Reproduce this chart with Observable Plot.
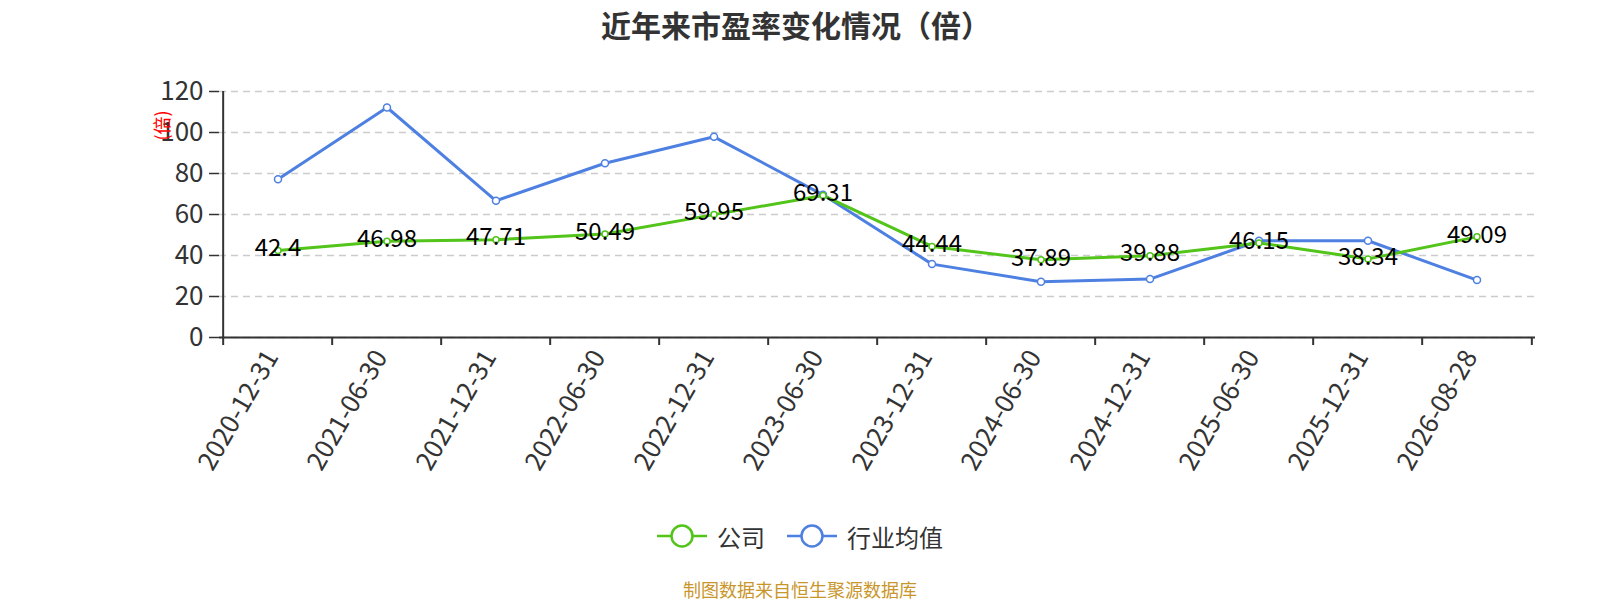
<!DOCTYPE html>
<html><head><meta charset="utf-8">
<script src="https://cdn.jsdelivr.net/npm/d3@7"></script>
<script src="https://cdn.jsdelivr.net/npm/@observablehq/plot@0.6"></script>
<style>
html,body{margin:0;padding:0;background:#fff;overflow:hidden;}
body{width:1600px;height:600px;font-family:"Noto Sans CJK SC","Noto Sans",sans-serif;}
#title{height:48px;line-height:48px;text-align:center;font-size:30px;font-weight:bold;color:#333;padding-right:8px;}
#chart{height:452px;}
#legend{height:72px;display:flex;justify-content:center;align-items:center;gap:22px;font-size:24px;color:#333;}
.li{display:flex;align-items:center;gap:10px;}
.li svg{display:block;}
#caption{text-align:center;font-size:18px;line-height:24px;color:#c9962b;margin-top:5px;}
</style></head>
<body>
<div id="title">近年来市盈率变化情况（倍）</div>
<div id="chart"></div>
<div id="legend"></div>
<div id="caption">制图数据来自恒生聚源数据库</div>
<script>
const dates = ["2020-12-31","2021-06-30","2021-12-31","2022-06-30","2022-12-31","2023-06-30","2023-12-31","2024-06-30","2024-12-31","2025-06-30","2025-12-31","2026-08-28"];
const company = [42.4,46.98,47.71,50.49,59.95,69.31,44.44,37.89,39.88,46.15,38.34,49.09];
const industry = [77.2,112.2,66.7,85.0,97.9,69.6,35.8,27.2,28.5,47.2,47.2,28.0];
const yTicks = [0,20,40,60,80,100,120];
const seriesNames = ["公司","行业均值"];
const colors = ["#52c41a","#4e80e2"];

const rowsC = dates.map((d,i)=>({date:d, v:company[i]}));
const rowsI = dates.map((d,i)=>({date:d, v:industry[i]}));

const W = 1600, H = 452, mL = 219, mR = 65, mT = 43, mB = 163;
const step = (W - mL - mR) / dates.length;
const font = '"Noto Sans CJK SC","Noto Sans",sans-serif';

const chart = Plot.plot({
  width: W, height: H,
  marginLeft: mL, marginRight: mR, marginTop: mT, marginBottom: mB,
  style: {fontFamily: font, background: "#fff"},
  x: {type: "band", domain: dates, padding: 0},
  y: {domain: [0,120]},
  marks: [
    Plot.gridY(yTicks, {stroke: "#ccc", strokeOpacity: 1, strokeDasharray: "7,5", strokeWidth: 1.3}),
    Plot.axisY(yTicks, {tickSize: 10, tickPadding: 6, fontSize: 26, fill: "#333", stroke: "#333", strokeWidth: 1.5, label: null}),
    Plot.ruleX([0], {x: () => dates[0], y1: 0, y2: 120, stroke: "#333", strokeWidth: 2, dx: -step/2}),
    Plot.ruleY([0], {stroke: "#333", strokeWidth: 2}),
    Plot.axisX(dates, {tickSize: 0, tickPadding: 15, tickRotate: -60, fontSize: 26, fill: "#333", label: null, textAnchor: "end", dx: -6}),
    Plot.axisX(dates, {tickSize: 8, tickFormat: () => "", stroke: "#333", strokeWidth: 2, dx: -step/2, label: null}),
    Plot.axisX([dates[dates.length-1]], {tickSize: 8, tickFormat: () => "", stroke: "#333", strokeWidth: 2, dx: step/2, label: null}),
    Plot.text(["(倍)"], {frameAnchor: "top-left", dx: -63, dy: 49, rotate: -90, fill: "red", fontSize: 18, text: d => d}),
    Plot.line(rowsI, {x: "date", y: "v", stroke: colors[1], strokeWidth: 3}),
    Plot.line(rowsC, {x: "date", y: "v", stroke: colors[0], strokeWidth: 3}),
    Plot.dot(rowsI, {x: "date", y: "v", r: 3.5, fill: "#fff", stroke: colors[1], strokeWidth: 1.5}),
    Plot.dot(rowsC, {x: "date", y: "v", r: 3, fill: "#fff", stroke: colors[0], strokeWidth: 1.5}),
    Plot.text(rowsC, {x: "date", y: "v", text: d => String(d.v), fontSize: 24, fill: "#000", dy: -2})
  ]
});
document.getElementById("chart").appendChild(chart);

const legend = document.getElementById("legend");
seriesNames.forEach((n,i)=>{
  const el = document.createElement("div");
  el.className = "li";
  el.innerHTML = `<svg width="50" height="26"><line x1="0" y1="13" x2="50" y2="13" stroke="${colors[i]}" stroke-width="2.5"/><circle cx="25" cy="13" r="10.5" fill="#fff" stroke="${colors[i]}" stroke-width="2.5"/></svg><span>${n}</span>`;
  legend.appendChild(el);
});
</script>
</body></html>
